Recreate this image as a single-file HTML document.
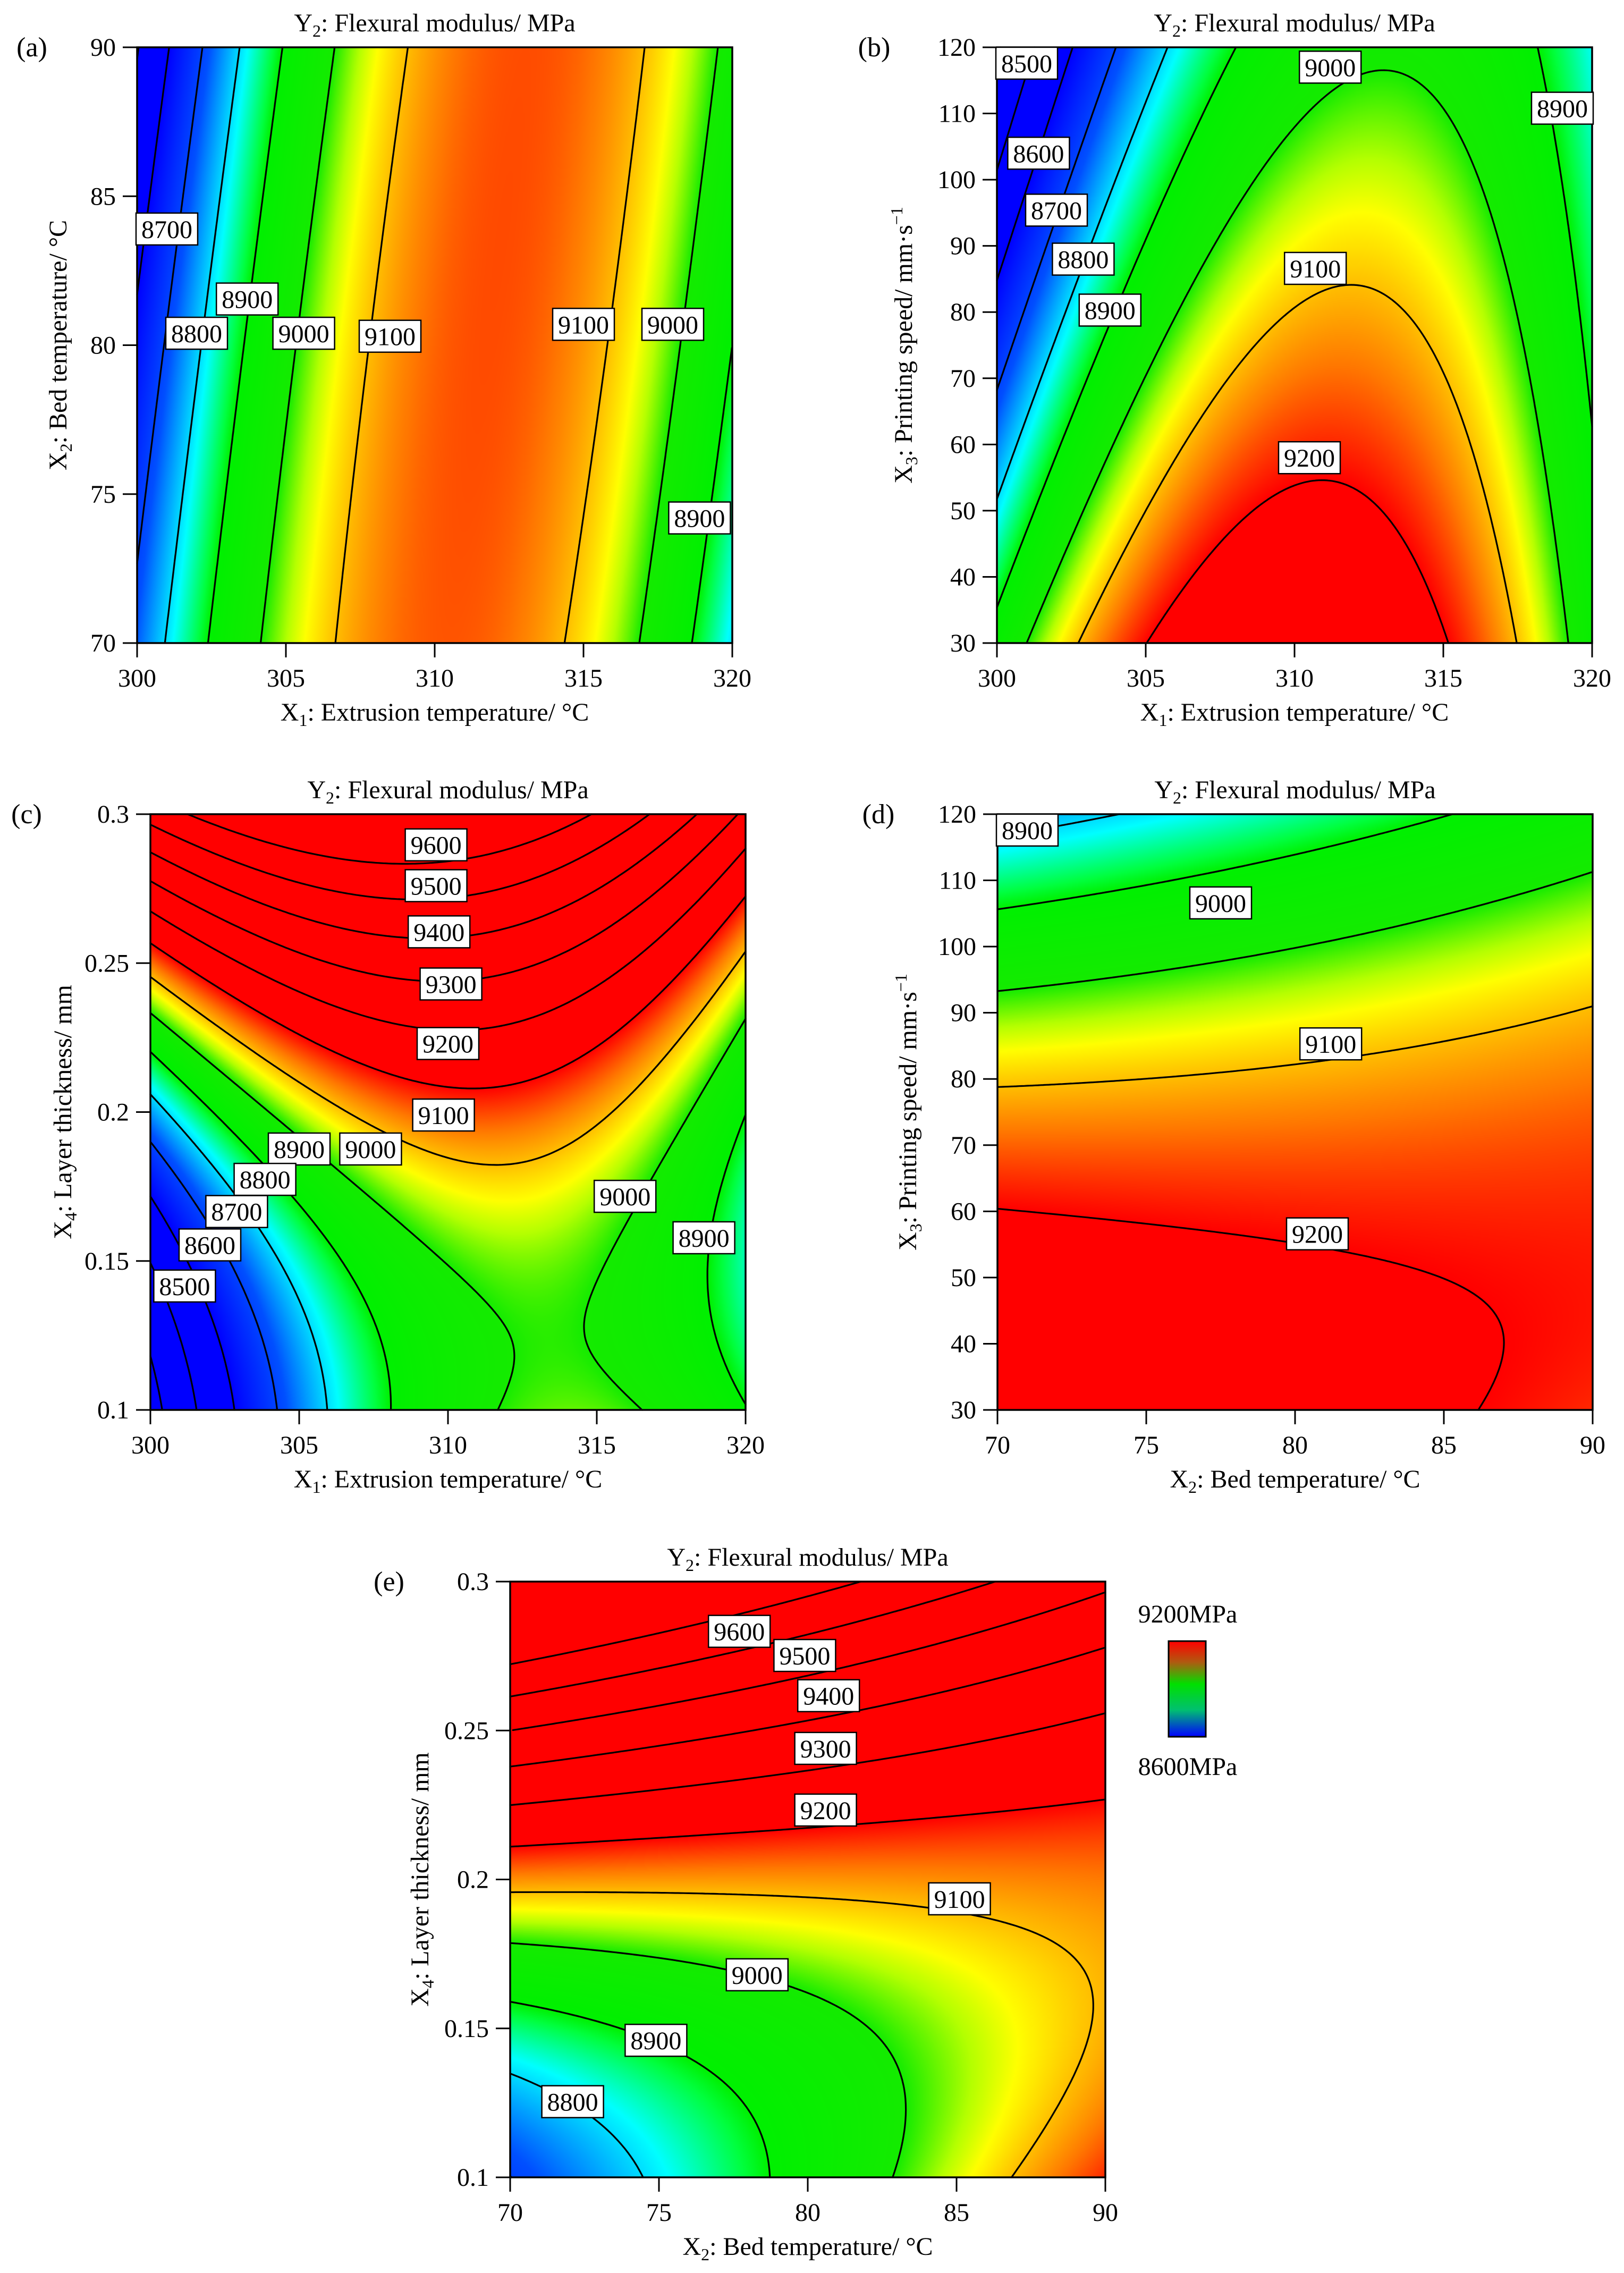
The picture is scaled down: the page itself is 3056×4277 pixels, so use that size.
<!DOCTYPE html>
<html>
<head>
<meta charset="utf-8">
<style>
  html,body{margin:0;padding:0;background:#fff;}
  body{width:3056px;height:4277px;position:relative;overflow:hidden;font-family:"Liberation Serif",serif;}
  canvas{position:absolute;}
  svg{position:absolute;left:0;top:0;}
</style>
</head>
<body>
<canvas id="cv-a"></canvas>
<canvas id="cv-b"></canvas>
<canvas id="cv-c"></canvas>
<canvas id="cv-d"></canvas>
<canvas id="cv-e"></canvas>
<svg id="overlay" width="3056" height="4277" viewBox="0 0 3056 4277">
  <defs>
    <linearGradient id="cbgrad" x1="0" y1="0" x2="0" y2="1">
      <stop offset="0" stop-color="#ff0000"/>
      <stop offset="0.22" stop-color="#b05a10"/>
      <stop offset="0.45" stop-color="#00e000"/>
      <stop offset="0.72" stop-color="#00c070"/>
      <stop offset="1" stop-color="#0000ff"/>
    </linearGradient>
  </defs>
  <g>
    <rect x="2199" y="3088" width="70" height="180" fill="url(#cbgrad)" stroke="#000" stroke-width="3"/>
    <text x="2235" y="3053" font-size="48" text-anchor="middle" font-family="Liberation Serif">9200MPa</text>
    <text x="2235" y="3340" font-size="48" text-anchor="middle" font-family="Liberation Serif">8600MPa</text>
  </g>
</svg>
<script>
// ---- Data: quadratic response-surface coefficients [b0, b1(u), b2(v), b11(u^2), b22(v^2), b12(uv)] ----
const coefA = [9150, 140, -16, -390, -9.2, 100];
const coefB = [9121, 112, -166.8, -350, 2.1, 105];
const coefC = [9161.6, 70.4, 437.6, -330, 240, -200];
const coefD = [9133, 15, -191.8, 5, -90, 74.6];
const coefE = [9123.5, 6, 405, 9.5, 212, -235];

// contour levels
const levels = [8300, 8400, 8500, 8600, 8700, 8800, 8900, 9000, 9100, 9200, 9300, 9400, 9500, 9600, 9700];

// axis ranges
const rangeX1 = [300, 320];
const rangeX2 = [70, 90];
const rangeX3 = [30, 120];
const rangeX4 = [0.1, 0.3];

// ticks
const ticksX1 = [300, 305, 310, 315, 320];
const ticksX2 = [70, 75, 80, 85, 90];
const ticksX3 = [30, 40, 50, 60, 70, 80, 90, 100, 110, 120];
const ticksX4 = [0.1, 0.15, 0.2, 0.25, 0.3];
const tickLabX4 = ["0.1", "0.15", "0.2", "0.25", "0.3"];

// contour labels (value, x, y in data units)
const labValA = [8700, 8800, 8900, 9000, 9100, 9100, 9000, 8900];
const labXA = [301.0, 302.0, 303.7, 305.6, 308.5, 315.0, 318.0, 318.9];
const labYA = [83.9, 80.4, 81.55, 80.4, 80.3, 80.7, 80.7, 74.2];

const labValB = [8500, 8600, 8700, 8800, 8900, 9000, 9100, 9200, 8900];
const labXB = [301.0, 301.4, 302.0, 302.9, 303.8, 311.2, 310.7, 310.5, 319.0];
const labYB = [117.6, 104, 95.4, 88, 80.3, 117, 86.6, 58, 110.8];

const labValC = [9600, 9500, 9400, 9300, 9200, 9100, 8900, 9000, 8800, 8700, 8600, 8500, 9000, 8900];
const labXC = [309.6, 309.6, 309.7, 310.1, 310.0, 309.85, 305.0, 307.4, 303.85, 302.9, 302.0, 301.15, 315.95, 318.6];
const labYC = [0.2897, 0.276, 0.2605, 0.243, 0.223, 0.199, 0.1876, 0.1876, 0.1774, 0.1666, 0.1554, 0.1416, 0.1717, 0.1578];

const labValD = [8900, 9000, 9100, 9200];
const labXD = [71.0, 77.5, 81.2, 80.75];
const labYD = [117.6, 106.6, 85.3, 56.6];

const labValE = [9600, 9500, 9400, 9300, 9200, 9100, 9000, 8900, 8800];
const labXE = [77.7, 79.9, 80.7, 80.6, 80.6, 85.1, 78.3, 74.9, 72.1];
const labYE = [0.2833, 0.2752, 0.2617, 0.244, 0.2233, 0.1935, 0.168, 0.146, 0.1254];

// color map stops (value -> rgb)
const cmapVals = [8600, 8720, 8820, 8880, 8900, 9000, 9040, 9065, 9100, 9140, 9200];
const cmapR = [0, 0, 0, 0, 0, 20, 180, 255, 255, 255, 255];
const cmapG = [0, 80, 255, 255, 240, 235, 255, 255, 190, 120, 0];
const cmapB = [255, 255, 255, 60, 0, 0, 0, 0, 0, 0, 0];

const SVGNS = "http://www.w3.org/2000/svg";
const svg = document.getElementById('overlay');

const panels = [
  {id:'a', letter:'(a)', coef:coefA, xr:rangeX1, yr:rangeX2, left:258, top:89, xt:ticksX1, yt:ticksX2, ytl:null,
   xtitle:['X','1',': Extrusion temperature/ °C'], ytitle:['X','2',': Bed temperature/ °C',null], lv:labValA, lx:labXA, ly:labYA, letterX:60, ytitleX:109},
  {id:'b', letter:'(b)', coef:coefB, xr:rangeX1, yr:rangeX3, left:1876, top:89, xt:ticksX1, yt:ticksX3, ytl:null,
   xtitle:['X','1',': Extrusion temperature/ °C'], ytitle:['X','3',': Printing speed/ mm·s','−1'], lv:labValB, lx:labXB, ly:labYB, letterX:1645, ytitleX:1700},
  {id:'c', letter:'(c)', coef:coefC, xr:rangeX1, yr:rangeX4, left:283, top:1532, xt:ticksX1, yt:ticksX4, ytl:tickLabX4,
   xtitle:['X','1',': Extrusion temperature/ °C'], ytitle:['X','4',': Layer thickness/ mm',null], lv:labValC, lx:labXC, ly:labYC, letterX:50, ytitleX:118},
  {id:'d', letter:'(d)', coef:coefD, xr:rangeX2, yr:rangeX3, left:1877, top:1532, xt:ticksX2, yt:ticksX3, ytl:null,
   xtitle:['X','2',': Bed temperature/ °C'], ytitle:['X','3',': Printing speed/ mm·s','−1'], lv:labValD, lx:labXD, ly:labYD, letterX:1653, ytitleX:1708},
  {id:'e', letter:'(e)', coef:coefE, xr:rangeX2, yr:rangeX4, left:960, top:2976, xt:ticksX2, yt:ticksX4, ytl:tickLabX4,
   xtitle:['X','2',': Bed temperature/ °C'], ytitle:['X','4',': Layer thickness/ mm',null], lv:labValE, lx:labXE, ly:labYE, letterX:732, ytitleX:790}
];
const W = 1120, H = 1121;

function model(c, xr, yr, x, y) {
  const u = (x - (xr[0] + xr[1]) / 2) / ((xr[1] - xr[0]) / 2);
  const v = (y - (yr[0] + yr[1]) / 2) / ((yr[1] - yr[0]) / 2);
  return c[0] + c[1]*u + c[2]*v + c[3]*u*u + c[4]*v*v + c[5]*u*v;
}
function color(val) {
  if (val <= cmapVals[0]) return [cmapR[0], cmapG[0], cmapB[0]];
  const n = cmapVals.length - 1;
  if (val >= cmapVals[n]) return [cmapR[n], cmapG[n], cmapB[n]];
  for (let i = 0; i < n; i++) {
    if (val <= cmapVals[i+1]) {
      const t = (val - cmapVals[i]) / (cmapVals[i+1] - cmapVals[i]);
      return [cmapR[i] + t*(cmapR[i+1]-cmapR[i]), cmapG[i] + t*(cmapG[i+1]-cmapG[i]), cmapB[i] + t*(cmapB[i+1]-cmapB[i])];
    }
  }
}
function mk(tag, attrs, parent) {
  const e = document.createElementNS(SVGNS, tag);
  for (const k in attrs) e.setAttribute(k, attrs[k]);
  (parent || svg).appendChild(e);
  return e;
}

panels.forEach(p => {
  const sx = x => p.left + (x - p.xr[0]) / (p.xr[1] - p.xr[0]) * W;
  const sy = y => p.top + (p.yr[1] - y) / (p.yr[1] - p.yr[0]) * H;
  const ix = px => p.xr[0] + px / W * (p.xr[1] - p.xr[0]);
  const iy = py => p.yr[1] - py / H * (p.yr[1] - p.yr[0]);

  // heatmap
  const cv = document.getElementById('cv-' + p.id);
  const CW = 560, CH = 561;
  cv.width = CW; cv.height = CH;
  cv.style.left = p.left + 'px'; cv.style.top = p.top + 'px';
  cv.style.width = W + 'px'; cv.style.height = H + 'px';
  const ctx = cv.getContext('2d');
  const img = ctx.createImageData(CW, CH);
  for (let j = 0; j < CH; j++) {
    for (let i = 0; i < CW; i++) {
      const val = model(p.coef, p.xr, p.yr, ix((i + 0.5) * W / CW), iy((j + 0.5) * H / CH));
      const c = color(val);
      const k = (j * CW + i) * 4;
      img.data[k] = c[0]; img.data[k+1] = c[1]; img.data[k+2] = c[2]; img.data[k+3] = 255;
    }
  }
  ctx.putImageData(img, 0, 0);

  const g = mk('g', {});
  
  

  // contours via marching squares
  const N = 220;
  const grid = [];
  for (let j = 0; j <= N; j++) {
    const row = [];
    for (let i = 0; i <= N; i++) row.push(model(p.coef, p.xr, p.yr, ix(i * W / N), iy(j * H / N)));
    grid.push(row);
  }
  levels.forEach(L => {
    let d = '';
    for (let j = 0; j < N; j++) {
      for (let i = 0; i < N; i++) {
        const v00 = grid[j][i], v10 = grid[j][i+1], v01 = grid[j+1][i], v11 = grid[j+1][i+1];
        const pts = [];
        const x0 = p.left + i * W / N, x1 = p.left + (i + 1) * W / N;
        const y0 = p.top + j * H / N, y1 = p.top + (j + 1) * H / N;
        if ((v00 - L) * (v10 - L) < 0) pts.push([x0 + (L - v00) / (v10 - v00) * (x1 - x0), y0]);
        if ((v10 - L) * (v11 - L) < 0) pts.push([x1, y0 + (L - v10) / (v11 - v10) * (y1 - y0)]);
        if ((v11 - L) * (v01 - L) < 0) pts.push([x1 + (L - v11) / (v01 - v11) * (x0 - x1), y1]);
        if ((v01 - L) * (v00 - L) < 0) pts.push([x0, y1 + (L - v01) / (v00 - v01) * (y0 - y1)]);
        if (pts.length >= 2) d += 'M' + pts[0][0].toFixed(1) + ' ' + pts[0][1].toFixed(1) + 'L' + pts[1][0].toFixed(1) + ' ' + pts[1][1].toFixed(1);
        if (pts.length === 4) d += 'M' + pts[2][0].toFixed(1) + ' ' + pts[2][1].toFixed(1) + 'L' + pts[3][0].toFixed(1) + ' ' + pts[3][1].toFixed(1);
      }
    }
    if (d) {
      const path = mk('path', {d: d, fill: 'none', stroke: '#000', 'stroke-width': 3.2, 'stroke-linecap': 'round'}, g);
      
      
    }
  });

  // frame
  const fr = mk('rect', {x: p.left, y: p.top, width: W, height: H, fill: 'none', stroke: '#000', 'stroke-width': 3.5}, g);
  
  

  // contour labels
  p.lv.forEach((val, k) => {
    const cx = sx(p.lx[k]), cy = sy(p.ly[k]);
    const lg = mk('g', {}, g);
    
    
    mk('rect', {x: cx - 58, y: cy - 30, width: 116, height: 60, fill: '#fff', stroke: '#000', 'stroke-width': 2.5}, lg);
    const t = mk('text', {x: cx, y: cy + 17, 'font-size': 48, 'text-anchor': 'middle', 'font-family': 'Liberation Serif'}, lg);
    t.textContent = String(val);
  });

  // x ticks
  const xa = mk('g', {}, g);
  
  
  p.xt.forEach(tv => {
    const X = sx(tv);
    mk('line', {x1: X, y1: p.top + H, x2: X, y2: p.top + H + 27, stroke: '#000', 'stroke-width': 3}, xa);
    const t = mk('text', {x: X, y: p.top + H + 82, 'font-size': 48, 'text-anchor': 'middle', 'font-family': 'Liberation Serif'}, xa);
    
    
    t.textContent = String(tv);
  });
  // y ticks
  const ya = mk('g', {}, g);
  
  
  p.yt.forEach((tv, k) => {
    const Y = sy(tv);
    mk('line', {x1: p.left - 27, y1: Y, x2: p.left, y2: Y, stroke: '#000', 'stroke-width': 3}, ya);
    const t = mk('text', {x: p.left - 40, y: Y + 16, 'font-size': 48, 'text-anchor': 'end', 'font-family': 'Liberation Serif'}, ya);
    
    
    t.textContent = p.ytl ? p.ytl[k] : String(tv);
  });

  // title
  const tt = mk('text', {x: p.left + W / 2, y: p.top - 30, 'font-size': 48, 'text-anchor': 'middle', 'font-family': 'Liberation Serif'}, g);
  
  
  tt.innerHTML = 'Y<tspan font-size="32" dy="10">2</tspan><tspan dy="-10">: Flexural modulus/ MPa</tspan>';

  // panel letter
  const pl = mk('text', {x: p.letterX, y: p.top + 17, 'font-size': 52, 'text-anchor': 'middle', 'font-family': 'Liberation Serif'}, g);
  
  
  pl.textContent = p.letter;

  // x title
  const xt = mk('text', {x: p.left + W / 2, y: p.top + H + 146, 'font-size': 48, 'text-anchor': 'middle', 'font-family': 'Liberation Serif'}, g);
  
  
  xt.innerHTML = p.xtitle[0] + '<tspan font-size="32" dy="10">' + p.xtitle[1] + '</tspan><tspan dy="-10">' + p.xtitle[2] + '</tspan>';

  // y title
  const cyT = p.top + H / 2;
  const yt = mk('text', {x: p.ytitleX, y: cyT, 'font-size': 48, 'text-anchor': 'middle', 'font-family': 'Liberation Serif', transform: 'rotate(-90 ' + p.ytitleX + ' ' + cyT + ')', dy: 16}, g);
  
  
  let html = p.ytitle[0] + '<tspan font-size="32" dy="10">' + p.ytitle[1] + '</tspan><tspan dy="-10">' + p.ytitle[2] + '</tspan>';
  if (p.ytitle[3]) html += '<tspan font-size="32" dy="-18">' + p.ytitle[3] + '</tspan>';
  yt.innerHTML = html;
});
</script>
</body>
</html>
